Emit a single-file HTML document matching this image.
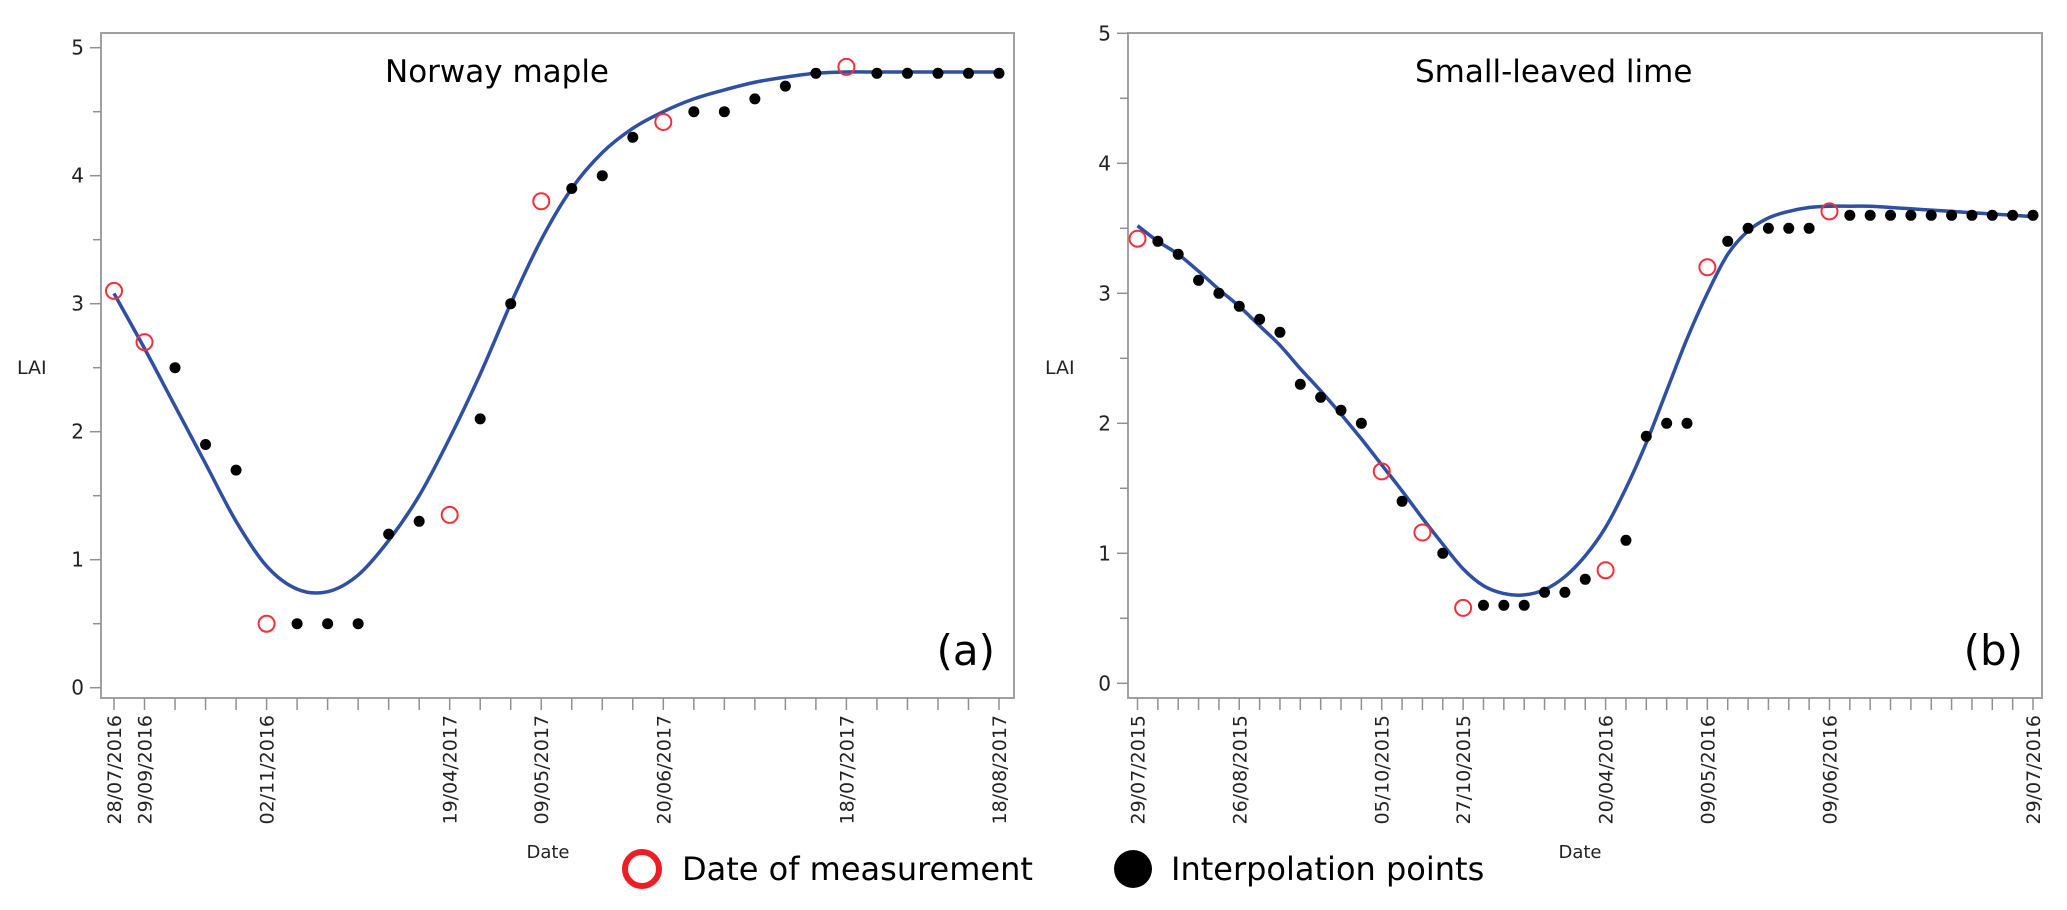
<!DOCTYPE html>
<html><head><meta charset="utf-8"><style>
html,body{margin:0;padding:0;background:#fff;}
svg{display:block;}
text{font-family:"DejaVu Sans","Liberation Sans",sans-serif;}
</style></head><body>
<svg id="chart" width="2067" height="910" viewBox="0 0 2067 910" xmlns="http://www.w3.org/2000/svg"></svg>
<script>
// ---- Panel (a) Norway maple data ----
const catsA = ["28/07/2016","29/09/2016","","","","02/11/2016","","","","","","19/04/2017","","","09/05/2017","","","","20/06/2017","","","","","","18/07/2017","","","","","18/08/2017"];
const measA = [3.1,2.7,null,null,null,0.5,null,null,null,null,null,1.35,null,null,3.8,null,null,null,4.42,null,null,null,null,null,4.85,null,null,null,null,null];
const interpA = [null,null,2.5,1.9,1.7,null,0.5,0.5,0.5,1.2,1.3,null,2.1,3.0,null,3.9,4.0,4.3,null,4.5,4.5,4.6,4.7,4.8,null,4.8,4.8,4.8,4.8,4.8];
const fitA = [3.08,2.65,2.2,1.75,1.3,0.95,0.77,0.75,0.88,1.15,1.5,1.95,2.45,3.0,3.5,3.9,4.18,4.37,4.5,4.6,4.67,4.73,4.77,4.8,4.81,4.81,4.81,4.81,4.81,4.81];
// ---- Panel (b) Small-leaved lime data ----
const catsB = ["29/07/2015","","","","","26/08/2015","","","","","","","05/10/2015","","","","27/10/2015","","","","","","","20/04/2016","","","","","09/05/2016","","","","","","09/06/2016","","","","","","","","","","29/07/2016"];
const measB = [3.42,null,null,null,null,null,null,null,null,null,null,null,1.63,null,1.16,null,0.58,null,null,null,null,null,null,0.87,null,null,null,null,3.2,null,null,null,null,null,3.63,null,null,null,null,null,null,null,null,null,null];
const interpB = [null,3.4,3.3,3.1,3.0,2.9,2.8,2.7,2.3,2.2,2.1,2.0,null,1.4,null,1.0,null,0.6,0.6,0.6,0.7,0.7,0.8,null,1.1,1.9,2.0,2.0,null,3.4,3.5,3.5,3.5,3.5,null,3.6,3.6,3.6,3.6,3.6,3.6,3.6,3.6,3.6,3.6];
const fitB = [3.52,3.4,3.3,3.17,3.03,2.9,2.75,2.6,2.42,2.25,2.07,1.88,1.68,1.48,1.27,1.07,0.88,0.75,0.69,0.68,0.72,0.82,0.98,1.2,1.5,1.85,2.25,2.65,3.0,3.3,3.48,3.58,3.63,3.66,3.67,3.67,3.67,3.66,3.65,3.64,3.63,3.62,3.61,3.6,3.59];
const yTicks = [0,1,2,3,4,5];

const NS="http://www.w3.org/2000/svg";
const svg=document.getElementById('chart');
function mk(tag,attrs,parent){const e=document.createElementNS(NS,tag);for(const k in attrs)e.setAttribute(k,attrs[k]);(parent||svg).appendChild(e);return e;}

function panel(cfg){
  const g=mk('g',{});
  
  
  const n=cfg.cats.length;
  const xs=i=>cfg.x0+i*(cfg.x1-cfg.x0)/(n-1);
  const ys=v=>cfg.yZero-v*cfg.unit;
  // frame
  const fr=mk('rect',{x:cfg.fl,y:cfg.ft,width:cfg.fr-cfg.fl,height:cfg.fb-cfg.ft,fill:'none',stroke:'#a0a0a0','stroke-width':2},g);
  
  
  // y ticks
  for(let v=0;v<=5;v+=0.5){
    const y=ys(v);
    if(y<cfg.ft-1)continue;
    const full=Number.isInteger(v);
    mk('line',{x1:cfg.fl-(full?11:8),x2:cfg.fl,y1:y,y2:y,stroke:'#909090','stroke-width':1.5},g);
  }
  yTicks.forEach(v=>{
    const t=mk('text',{x:cfg.fl-17,y:ys(v)+7,'text-anchor':'end','font-size':20,fill:'#222'},g);
    t.textContent=v;
    
    
  });
  // x ticks & labels
  for(let i=0;i<n;i++){
    const x=xs(i);
    mk('line',{x1:x,x2:x,y1:cfg.fb,y2:cfg.fb+12,stroke:'#909090','stroke-width':1.5},g);
    if(cfg.cats[i]){
      const t=mk('text',{x:0,y:0,transform:`translate(${x+7},${cfg.fb+17}) rotate(-90)`,'text-anchor':'end','font-size':19,'font-family':'Liberation Sans, sans-serif',fill:'#222'},g);
      t.textContent=cfg.cats[i];
      
      
    }
  }
  // fit curve (Catmull-Rom)
  const pts=cfg.fit.map((v,i)=>[xs(i),ys(v)]);
  let d=`M${pts[0][0]},${pts[0][1]}`;
  for(let i=0;i<pts.length-1;i++){
    const p0=pts[Math.max(0,i-1)],p1=pts[i],p2=pts[i+1],p3=pts[Math.min(pts.length-1,i+2)];
    d+=` C${p1[0]+(p2[0]-p0[0])/6},${p1[1]+(p2[1]-p0[1])/6} ${p2[0]-(p3[0]-p1[0])/6},${p2[1]-(p3[1]-p1[1])/6} ${p2[0]},${p2[1]}`;
  }
  const c=mk('path',{d:d,fill:'none',stroke:'#2f4fa3','stroke-width':3.5},g);
  
  
  cfg.interp.forEach((v,i)=>{
    if(v===null)return;
    const p=mk('circle',{cx:xs(i),cy:ys(v),r:5.5,fill:'#000'},g);
    
    
  });
  cfg.meas.forEach((v,i)=>{
    if(v===null)return;
    const p=mk('circle',{cx:xs(i),cy:ys(v),r:8,fill:'none',stroke:'#f0303a','stroke-width':2},g);
    
    
  });
  const ti=mk('text',{x:cfg.titleX,y:82,'font-size':31,fill:'#000'},g);
  ti.textContent=cfg.title;
  
  
  const lb=mk('text',{x:cfg.fr-19,y:665,'text-anchor':'end','font-size':42,'font-family':'Liberation Sans, sans-serif',fill:'#000'},g);
  lb.textContent=cfg.letter;
  
  
  const ya=mk('text',{x:cfg.laiX,y:374,'font-size':19,fill:'#222'},g);
  ya.textContent='LAI';
  
  
  const xa=mk('text',{x:cfg.dateX,y:858,'text-anchor':'middle','font-size':18,fill:'#222'},g);
  xa.textContent='Date';
  
  
}

panel({name:'panel-a-norway-maple',cats:catsA,meas:measA,interp:interpA,fit:fitA,
  x0:114,x1:999,yZero:687.7,unit:128,fl:101,fr:1014,ft:33,fb:698,
  title:'Norway maple',titleX:385,letter:'(a)',laiX:17,dateX:548});
panel({name:'panel-b-small-leaved-lime',cats:catsB,meas:measB,interp:interpB,fit:fitB,
  x0:1137.5,x1:2033,yZero:683.3,unit:130,fl:1128,fr:2042,ft:33,fb:698,
  title:'Small-leaved lime',titleX:1415,letter:'(b)',laiX:1045,dateX:1580});

// legend
const lg=mk('g',{});


const l1=mk('circle',{cx:642,cy:869,r:17,fill:'none',stroke:'#ee1c25','stroke-width':6},lg);


const t1=mk('text',{x:682,y:880,'font-size':32,fill:'#000'},lg);
t1.textContent='Date of measurement';


const l2=mk('circle',{cx:1133,cy:869,r:19,fill:'#000'},lg);


const t2=mk('text',{x:1171,y:880,'font-size':32,fill:'#000'},lg);
t2.textContent='Interpolation points';


</script>
</body></html>
